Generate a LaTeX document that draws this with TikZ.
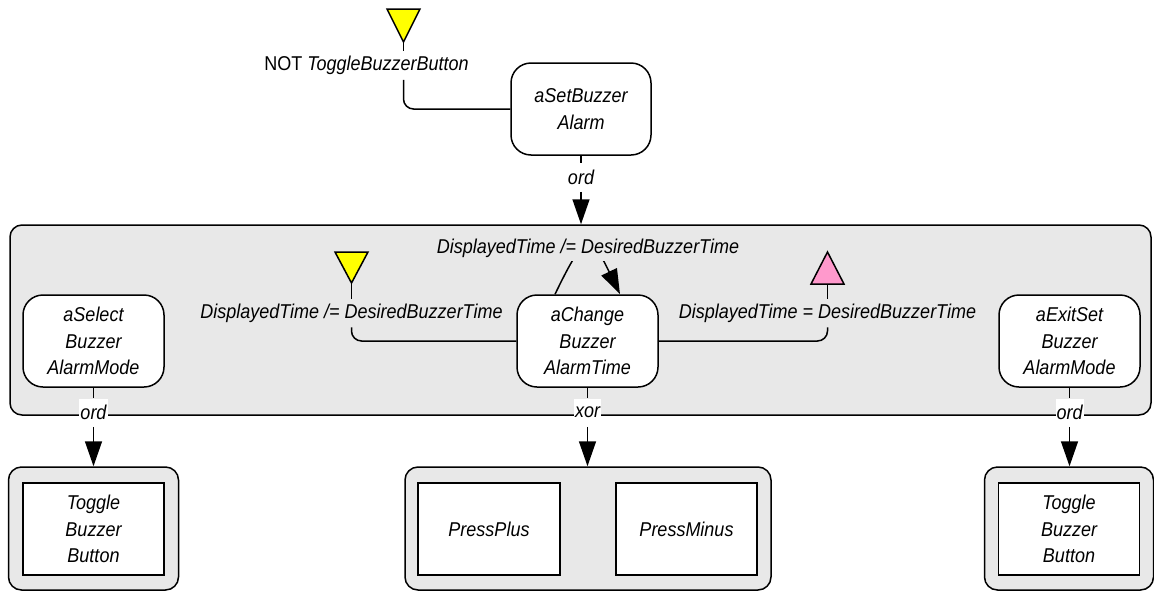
\documentclass[tikz,border=0pt]{standalone}
\usepackage{fontspec}
\setmainfont[FakeStretch=0.9]{Liberation Sans}
\usetikzlibrary{arrows.meta,calc}
\definecolor{cgray}{HTML}{E8E8E8}
\definecolor{cyel}{HTML}{FFFF00}
\definecolor{cpink}{HTML}{FF99CC}
\begin{document}
\begin{tikzpicture}[x=1pt,y=-1pt, line width=1.5pt,
  every node/.style={font=\fontsize{20}{26.5}\selectfont\itshape},
  actbox/.style={draw, fill=white, rounded corners=20pt, minimum width=141pt, minimum height=92pt, inner sep=0pt, align=center},
  grp/.style={draw, fill=cgray, rounded corners=13pt, inner sep=0pt},
  leaf/.style={draw, fill=white, minimum width=141pt, minimum height=92pt, inner sep=0pt, align=center},
  lbl/.style={inner sep=0pt, minimum height=27pt},
  wlbl/.style={fill=white, inner xsep=1pt, inner ysep=0pt, minimum height=27pt},
  arr/.style={-{Triangle[length=25pt,width=17pt]}},
  guardtri/.style={draw, line width=1.5pt, line join=miter}
]
\useasboundingbox (0,0) rectangle (1154,592);

% container
\node[grp, rounded corners=12pt, minimum width=1141pt, minimum height=190pt] (cont) at (580.5,320) {};

% activity boxes
\node[actbox, minimum width=140pt] (asb) at (581,109) {aSetBuzzer\\Alarm};
\node[actbox] (sel) at (93.5,341) {aSelect\\Buzzer\\AlarmMode};
\node[actbox] (chg) at (587.5,341) {aChange\\Buzzer\\AlarmTime};
\node[actbox] (ext) at (1069.5,341) {aExitSet\\Buzzer\\AlarmMode};

% bottom groups
\node[grp, minimum width=170pt, minimum height=123pt] (g1) at (93.5,528.5) {};
\node[leaf] (t1) at (93.5,529) {Toggle\\Buzzer\\Button};
\node[grp, minimum width=366pt, minimum height=123pt] (g2) at (588,528.5) {};
\node[leaf, minimum width=142pt] (pp) at (489,529) {PressPlus};
\node[leaf] (pm) at (686.5,529) {PressMinus};
\node[grp, minimum width=169pt, minimum height=123pt] (g3) at (1069,528.5) {};
\node[leaf] (t3) at (1069,529) {Toggle\\Buzzer\\Button};

% ord / xor connectors
\node[lbl] (o0) at (581,177.5) {ord};
\draw (asb.south) -- (o0.north);
\draw[arr] (o0.south) -- (o0 |- cont.north);

\node[wlbl] (o1) at (93.5,412.5) {ord};
\draw (sel.south) -- (o1.north);
\draw[arr] (o1.south) -- (o1 |- g1.north);

\node[wlbl] (x2) at (587.5,412.5) {xor};
\draw (chg.south) -- (x2.north);
\draw[arr] (x2.south) -- (x2 |- g2.north);

\node[wlbl] (o3) at (1069.5,412.5) {ord};
\draw (ext.south) -- (o3.north);
\draw[arr] (o3.south) -- (o3 |- g3.north);

% top guard
\draw[guardtri, fill=cyel] (387,9) -- (420,9) -- (403.5,42) -- cycle;
\coordinate (tp1) at (403.5,42);
\node[lbl] (nt) at (366.5,65.5) {\upshape NOT \itshape ToggleBuzzerButton};
\draw (tp1) -- (tp1 |- nt.north);
\draw[rounded corners=10pt] (tp1 |- nt.south) |- (asb.west);

% left guard
\draw[guardtri, fill=cyel] (335,252) -- (368,252) -- (351.5,283) -- cycle;
\coordinate (tp2) at (351.5,283);
\node[lbl] (gl) at (351.5,313) {DisplayedTime /= DesiredBuzzerTime};
\draw (tp2) -- (gl.north);
\draw[rounded corners=10pt] (gl.south) |- (chg.west);

% right guard
\draw[guardtri, fill=cpink] (811,284) -- (844,284) -- (827.5,252) -- cycle;
\coordinate (tp3) at (827.5,284);
\node[lbl] (gr) at (827.5,313) {DisplayedTime = DesiredBuzzerTime};
\draw (tp3) -- (gr.north);
\draw[rounded corners=10pt] (chg.east) -| (gr.south);

% self loop
\draw[arr] ([xshift=-32.5pt]chg.north) .. controls +(30,-62) and +(-30,-62) .. ([xshift=32.5pt]chg.north);
\node[lbl, fill=cgray, minimum height=26pt, inner xsep=2pt] (lp) at (588,248) {DisplayedTime /= DesiredBuzzerTime};
\end{tikzpicture}
\end{document}
